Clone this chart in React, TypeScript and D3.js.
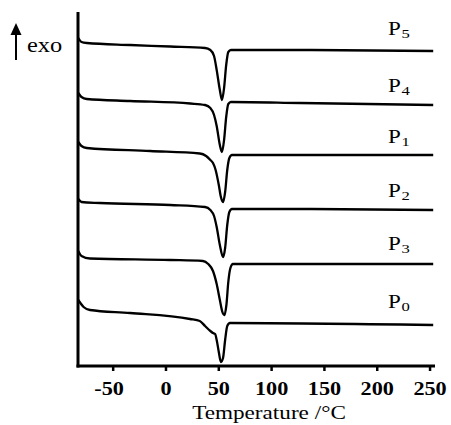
import * as d3 from "d3";
import React from "react";

// DSC traces: temperature (°C) vs heat flow (arbitrary units, exo up)
const P5 = [[-83, 328], [-80, 324], [-75, 323], [-34, 321], [4, 319.5], [37, 318], [42, 316], [45.5, 310], [48, 296], [51, 276], [53, 266], [55, 278], [57, 301], [59, 314], [61.5, 316], [127, 316], [253, 315]];
const P4 = [[-83, 273], [-80, 269], [-75, 267], [-34, 265], [23, 262.5], [37, 261], [42, 258], [45.5, 251], [48, 240], [51, 221], [53, 214], [55, 226], [57, 249], [59, 262], [61.5, 264], [127, 263], [253, 261]];
const P1 = [[-83, 224], [-80, 220], [-75, 218], [-15, 215], [32, 212.5], [38, 210], [42, 206], [44.5, 203], [47, 196], [50, 181], [52, 169], [54, 164], [56, 174], [58, 196], [60, 208], [62.5, 211], [253, 211]];
const P2 = [[-83, 167], [-80, 164], [-62.5, 163], [4, 161], [37, 159], [42, 156], [45.5, 150], [48, 139], [51, 121], [54, 109], [56, 118], [58, 141], [60, 154], [62.5, 157], [127, 157], [253, 156]];
const P3 = [[-83, 115], [-80, 110], [-72, 107.5], [4, 106], [35, 105], [40, 102], [44.5, 95], [48, 82], [51, 66], [53.4, 54], [55.3, 51], [57.2, 61], [59, 84], [61, 98], [63.4, 102], [127, 102], [253, 102]];
const P0 = [[-83, 66], [-78, 59], [-72, 56], [-34, 53], [22.7, 47], [32, 45], [37, 40], [42, 35], [44.5, 33], [46.5, 32], [48, 26], [50, 14], [52, 4], [54, 8], [56, 26], [58, 40], [60.6, 43], [253, 41]];

const names = ["5", "4", "1", "2", "3", "0"];
const curves = [P5, P4, P1, P2, P3, P0];
// baseline of each "P" label, in heat-flow units
const labelLevels = [331, 274, 223, 169, 116, 58];

const xTicks = [-50, 0, 50, 100, 150, 200, 250];

export default function App() {
  const W = 451;
  const H = 425;
  const left = 78, right = 433, top = 12, bottom = 366;

  const x = d3.scaleLinear().domain([-83.3, 252.8]).range([left, right]);
  const y = d3.scaleLinear().domain([0, 354]).range([bottom, top]);

  const line = d3
    .line<number[]>()
    .x(d => x(d[0]))
    .y(d => y(d[1]))
    .curve(d3.curveMonotoneX);

  const font = "'Liberation Serif', 'Times New Roman', serif";

  return (
    <svg width={W} height={H} style={{ position: "absolute", left: 0, top: 0, background: "#fff" }}>
      {/* curves */}
      <g fill="none" stroke="#000" strokeWidth={2.3} strokeLinejoin="round">
        {curves.map((c, i) => (
          <path key={names[i]} d={line(c) || ""} />
        ))}
      </g>

      {/* curve labels */}
      {names.map((n, i) => (
        <g key={n} transform={`translate(388,${y(labelLevels[i])}) scale(1.28,1)`}>
          <text fontFamily={font} fontSize={18} fill="#000">
            P<tspan fontSize={13} dx={0.5} dy={2.5}>{n}</tspan>
          </text>
        </g>
      ))}

      {/* axes */}
      <line x1={left} x2={left} y1={top} y2={bottom + 1.5} stroke="#000" strokeWidth={3} />
      <line x1={left - 1.5} x2={right + 2} y1={bottom} y2={bottom} stroke="#000" strokeWidth={3} />
      {xTicks.map(t => (
        <g key={t} transform={`translate(${x(t)},${bottom})`}>
          <line y1={0} y2={5} stroke="#000" strokeWidth={2.5} />
          <g transform={`translate(${t < 0 ? -4 : 0},29) scale(1.17,1)`}>
            <text textAnchor="middle" fontFamily={font} fontWeight="bold" fontSize={19} fill="#000">
              {t}
            </text>
          </g>
        </g>
      ))}
      <g transform="translate(269,419) scale(1.22,1)">
        <text textAnchor="middle" fontFamily={font} fontSize={19} fill="#000">
          Temperature /°C
        </text>
      </g>

      {/* exo arrow */}
      <line x1={16} x2={16} y1={60} y2={32} stroke="#000" strokeWidth={2} />
      <path d="M10.5,35 L16,23 L21.5,35 Z" fill="#000" />
      <g transform="translate(27,52) scale(1.22,1)">
        <text fontFamily={font} fontSize={20} fill="#000">exo</text>
      </g>
    </svg>
  );
}
